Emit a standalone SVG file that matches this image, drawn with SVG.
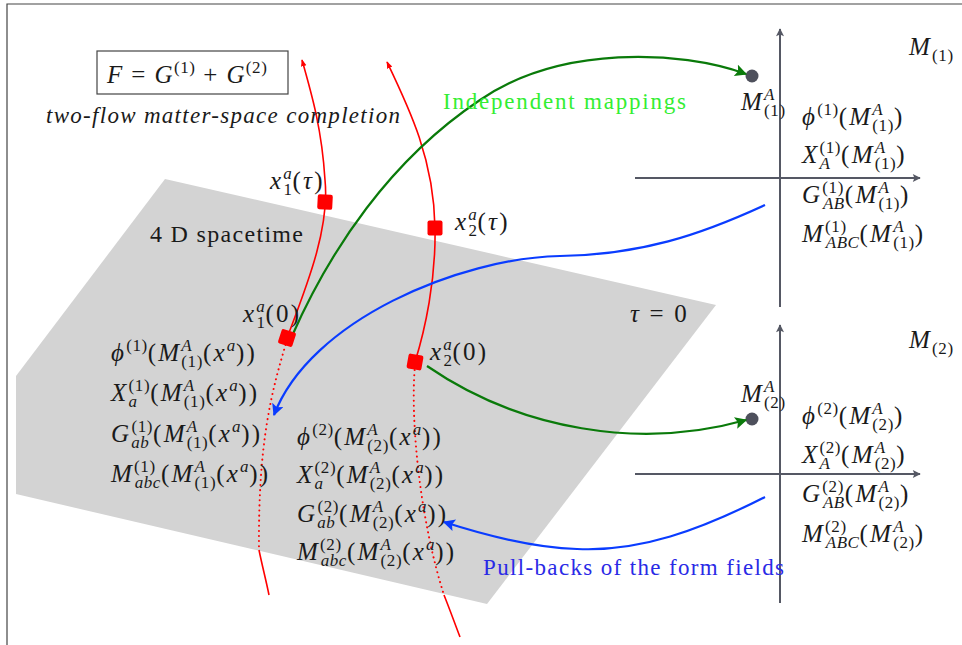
<svg xmlns="http://www.w3.org/2000/svg" width="962" height="645" viewBox="0 0 962 645" font-family="Liberation Serif, DejaVu Serif, serif">
<style>
.m{font-size:25px;letter-spacing:2.2px}
.i{font-style:italic}
.s{font-size:17px;letter-spacing:0.6px}
.red{fill:none;stroke:#ff0000;stroke-width:1.6}
.dot{fill:none;stroke:#ff0000;stroke-width:2;stroke-dasharray:0.1 5;stroke-linecap:round}
.grn{fill:none;stroke:#0a7a0a;stroke-width:2.2}
.blu{fill:none;stroke:#0a3cff;stroke-width:2.2}
.ax{fill:none;stroke:#555864;stroke-width:2}
.sq{fill:#ff0000}
</style>
<defs>
<marker id="ar" viewBox="0 0 10 10" refX="9" refY="5" markerWidth="7" markerHeight="7" orient="auto" markerUnits="userSpaceOnUse"><path d="M0,1 L10,5 L0,9 Z" fill="#ff0000"/></marker>
<marker id="ag" viewBox="0 0 10 10" refX="9" refY="5" markerWidth="14" markerHeight="12" orient="auto" markerUnits="userSpaceOnUse"><path d="M0,0 L10,5 L0,10 L2,5 Z" fill="#0a7a0a"/></marker>
<marker id="ab" viewBox="0 0 10 10" refX="9" refY="5" markerWidth="14" markerHeight="12" orient="auto" markerUnits="userSpaceOnUse"><path d="M0,0 L10,5 L0,10 L2,5 Z" fill="#0a3cff"/></marker>
<marker id="ax" viewBox="0 0 10 10" refX="9" refY="5" markerWidth="9" markerHeight="8" orient="auto" markerUnits="userSpaceOnUse"><path d="M0,0 L10,5 L0,10 L2,5 Z" fill="#555864"/></marker>
</defs>
<rect width="962" height="645" fill="#fff"/>
<g id="frame"><path d="M7,645 L7,4 L962,4" fill="none" stroke="#444" stroke-width="1.2"/></g>
<g id="spacetime-plane"><polygon points="165,179 716,305 487,604 16,494 16,376" fill="#d3d3d3"/></g>

<g id="axes1">
<line class="ax" x1="780" y1="307" x2="780" y2="29" marker-end="url(#ax)"/>
<line class="ax" x1="635" y1="178" x2="920" y2="178" marker-end="url(#ax)"/>
<circle cx="752" cy="76" r="6.5" fill="#4e505c"/>
</g>
<g id="axes2">
<line class="ax" x1="780" y1="603" x2="780" y2="325" marker-end="url(#ax)"/>
<line class="ax" x1="635" y1="474" x2="920" y2="474" marker-end="url(#ax)"/>
<circle cx="752" cy="419" r="6.5" fill="#4e505c"/>
</g>

<g id="connectors">
<path class="red" d="M287,338 C305,290 330,230 325,180 C322,130 312,95 302,60" marker-end="url(#ar)"/>
<path class="dot" d="M287,340 C272,390 258,440 259,550"/>
<path class="red" d="M259,550 C262,565 266,580 269,595"/>
<path class="red" d="M415,362 C425,330 436,280 435,228 C434,160 410,110 387,62" marker-end="url(#ar)"/>
<path class="dot" d="M415,365 C410,420 420,520 444,595"/>
<path class="red" d="M444,595 C450,610 455,624 460,637"/>
<path class="grn" d="M292,336 C330,250 390,160 480,100 C560,45 680,50 746,74" marker-end="url(#ag)"/>
<path class="grn" d="M427,366 C520,430 640,450 746,420" marker-end="url(#ag)"/>
<path class="blu" d="M765,205 C700,235 640,255 560,256 C460,258 310,320 274,415" marker-end="url(#ab)"/>
<path class="blu" d="M765,497 C700,530 640,552 577,549 C540,548 500,540 444,522" marker-end="url(#ab)"/>
</g>

<g id="worldline-points">
<rect class="sq" x="317.5" y="194.5" width="15" height="15" rx="2" transform="rotate(3 325 202)"/>
<rect class="sq" x="427.5" y="220.5" width="15" height="15" rx="2"/>
<rect class="sq" x="279.5" y="330.5" width="15" height="15" rx="2" transform="rotate(18 287 338)"/>
<rect class="sq" x="407.5" y="354.5" width="15" height="15" rx="2" transform="rotate(10 415 362)"/>
</g>

<g id="title" fill="#1a1a1a">
<rect x="97" y="51" width="191" height="43" fill="none" stroke="#444" stroke-width="1.2"/>
<text class="m" x="107" y="83" style="letter-spacing:1.4px"><tspan class="i">F</tspan> = <tspan class="i">G</tspan><tspan class="s" dy="-10">(1)</tspan><tspan dy="10"> + </tspan><tspan class="i">G</tspan><tspan class="s" dy="-10">(2)</tspan></text>
<text class="i" x="46" y="123" font-size="23" textLength="354" lengthAdjust="spacing">two-flow matter-space completion</text>
</g>

<g id="labels-plane" fill="#1a1a1a">
<text x="150" y="242" font-size="24" textLength="153" lengthAdjust="spacing">4 D spacetime</text>
<text class="m" x="630" y="322"><tspan class="i">τ</tspan> = 0</text>
<text class="m" x="270" y="189"><tspan class="i">x</tspan><tspan class="s i" dy="-10">a</tspan><tspan class="s" dx="-9" dy="16">1</tspan><tspan dy="-6">(</tspan><tspan class="i">τ</tspan>)</text>
<text class="m" x="455" y="230"><tspan class="i">x</tspan><tspan class="s i" dy="-10">a</tspan><tspan class="s" dx="-9" dy="16">2</tspan><tspan dy="-6">(</tspan><tspan class="i">τ</tspan>)</text>
<text class="m" x="243" y="322"><tspan class="i">x</tspan><tspan class="s i" dy="-10">a</tspan><tspan class="s" dx="-9" dy="16">1</tspan><tspan dy="-6">(0)</tspan></text>
<text class="m" x="430" y="360"><tspan class="i">x</tspan><tspan class="s i" dy="-10">a</tspan><tspan class="s" dx="-9" dy="16">2</tspan><tspan dy="-6">(0)</tspan></text>
</g>

<g id="fields-flow1" fill="#1a1a1a">
<text class="m" x="111" y="361"><tspan class="i">ϕ</tspan><tspan class="s" dy="-10">(1)</tspan><tspan dy="10">(</tspan><tspan class="i">M</tspan><tspan class="s i" dy="-10">A</tspan><tspan class="s" dx="-11" dy="16">(1)</tspan><tspan dy="-6">(</tspan><tspan class="i">x</tspan><tspan class="s i" dy="-10">a</tspan><tspan dy="10">))</tspan></text>
<text class="m" x="111" y="401"><tspan class="i">X</tspan><tspan class="s i" dy="6">a</tspan><tspan class="s" dx="-9" dy="-16">(1)</tspan><tspan dy="10">(</tspan><tspan class="i">M</tspan><tspan class="s i" dy="-10">A</tspan><tspan class="s" dx="-11" dy="16">(1)</tspan><tspan dy="-6">(</tspan><tspan class="i">x</tspan><tspan class="s i" dy="-10">a</tspan><tspan dy="10">))</tspan></text>
<text class="m" x="111" y="442"><tspan class="i">G</tspan><tspan class="s i" dy="6">ab</tspan><tspan class="s" dx="-18" dy="-16">(1)</tspan><tspan dy="10">(</tspan><tspan class="i">M</tspan><tspan class="s i" dy="-10">A</tspan><tspan class="s" dx="-11" dy="16">(1)</tspan><tspan dy="-6">(</tspan><tspan class="i">x</tspan><tspan class="s i" dy="-10">a</tspan><tspan dy="10">))</tspan></text>
<text class="m" x="111" y="482"><tspan class="i">M</tspan><tspan class="s" dy="-10">(1)</tspan><tspan class="s i" dx="-21" dy="16">abc</tspan><tspan dy="-6">(</tspan><tspan class="i">M</tspan><tspan class="s i" dy="-10">A</tspan><tspan class="s" dx="-11" dy="16">(1)</tspan><tspan dy="-6">(</tspan><tspan class="i">x</tspan><tspan class="s i" dy="-10">a</tspan><tspan dy="10">))</tspan></text>
</g>

<g id="fields-flow2" fill="#1a1a1a">
<text class="m" x="297" y="445"><tspan class="i">ϕ</tspan><tspan class="s" dy="-10">(2)</tspan><tspan dy="10">(</tspan><tspan class="i">M</tspan><tspan class="s i" dy="-10">A</tspan><tspan class="s" dx="-11" dy="16">(2)</tspan><tspan dy="-6">(</tspan><tspan class="i">x</tspan><tspan class="s i" dy="-10">a</tspan><tspan dy="10">))</tspan></text>
<text class="m" x="297" y="483"><tspan class="i">X</tspan><tspan class="s i" dy="6">a</tspan><tspan class="s" dx="-9" dy="-16">(2)</tspan><tspan dy="10">(</tspan><tspan class="i">M</tspan><tspan class="s i" dy="-10">A</tspan><tspan class="s" dx="-11" dy="16">(2)</tspan><tspan dy="-6">(</tspan><tspan class="i">x</tspan><tspan class="s i" dy="-10">a</tspan><tspan dy="10">))</tspan></text>
<text class="m" x="297" y="522"><tspan class="i">G</tspan><tspan class="s i" dy="6">ab</tspan><tspan class="s" dx="-18" dy="-16">(2)</tspan><tspan dy="10">(</tspan><tspan class="i">M</tspan><tspan class="s i" dy="-10">A</tspan><tspan class="s" dx="-11" dy="16">(2)</tspan><tspan dy="-6">(</tspan><tspan class="i">x</tspan><tspan class="s i" dy="-10">a</tspan><tspan dy="10">))</tspan></text>
<text class="m" x="297" y="560"><tspan class="i">M</tspan><tspan class="s" dy="-10">(2)</tspan><tspan class="s i" dx="-21" dy="16">abc</tspan><tspan dy="-6">(</tspan><tspan class="i">M</tspan><tspan class="s i" dy="-10">A</tspan><tspan class="s" dx="-11" dy="16">(2)</tspan><tspan dy="-6">(</tspan><tspan class="i">x</tspan><tspan class="s i" dy="-10">a</tspan><tspan dy="10">))</tspan></text>
</g>

<g id="matter-space1" fill="#1a1a1a">
<text class="m" x="909" y="55"><tspan class="i">M</tspan><tspan class="s" dy="6">(1)</tspan></text>
<text class="m" x="741" y="110"><tspan class="i">M</tspan><tspan class="s i" dy="-10">A</tspan><tspan class="s" dx="-11" dy="16">(1)</tspan></text>
<text class="m" x="802" y="125"><tspan class="i">ϕ</tspan><tspan class="s" dy="-10">(1)</tspan><tspan dy="10">(</tspan><tspan class="i">M</tspan><tspan class="s i" dy="-10">A</tspan><tspan class="s" dx="-11" dy="16">(1)</tspan><tspan dy="-6">)</tspan></text>
<text class="m" x="802" y="163"><tspan class="i">X</tspan><tspan class="s i" dy="6">A</tspan><tspan class="s" dx="-11" dy="-16">(1)</tspan><tspan dy="10">(</tspan><tspan class="i">M</tspan><tspan class="s i" dy="-10">A</tspan><tspan class="s" dx="-11" dy="16">(1)</tspan><tspan dy="-6">)</tspan></text>
<text class="m" x="802" y="203"><tspan class="i">G</tspan><tspan class="s" dy="-10">(1)</tspan><tspan class="s i" dx="-21" dy="16">AB</tspan><tspan dy="-6">(</tspan><tspan class="i">M</tspan><tspan class="s i" dy="-10">A</tspan><tspan class="s" dx="-11" dy="16">(1)</tspan><tspan dy="-6">)</tspan></text>
<text class="m" x="802" y="242"><tspan class="i">M</tspan><tspan class="s" dy="-10">(1)</tspan><tspan class="s i" dx="-21" dy="16">ABC</tspan><tspan dy="-6">(</tspan><tspan class="i">M</tspan><tspan class="s i" dy="-10">A</tspan><tspan class="s" dx="-11" dy="16">(1)</tspan><tspan dy="-6">)</tspan></text>
</g>

<g id="matter-space2" fill="#1a1a1a">
<text class="m" x="909" y="348"><tspan class="i">M</tspan><tspan class="s" dy="6">(2)</tspan></text>
<text class="m" x="741" y="402"><tspan class="i">M</tspan><tspan class="s i" dy="-10">A</tspan><tspan class="s" dx="-11" dy="16">(2)</tspan></text>
<text class="m" x="802" y="424"><tspan class="i">ϕ</tspan><tspan class="s" dy="-10">(2)</tspan><tspan dy="10">(</tspan><tspan class="i">M</tspan><tspan class="s i" dy="-10">A</tspan><tspan class="s" dx="-11" dy="16">(2)</tspan><tspan dy="-6">)</tspan></text>
<text class="m" x="802" y="463"><tspan class="i">X</tspan><tspan class="s i" dy="6">A</tspan><tspan class="s" dx="-11" dy="-16">(2)</tspan><tspan dy="10">(</tspan><tspan class="i">M</tspan><tspan class="s i" dy="-10">A</tspan><tspan class="s" dx="-11" dy="16">(2)</tspan><tspan dy="-6">)</tspan></text>
<text class="m" x="802" y="502"><tspan class="i">G</tspan><tspan class="s" dy="-10">(2)</tspan><tspan class="s i" dx="-21" dy="16">AB</tspan><tspan dy="-6">(</tspan><tspan class="i">M</tspan><tspan class="s i" dy="-10">A</tspan><tspan class="s" dx="-11" dy="16">(2)</tspan><tspan dy="-6">)</tspan></text>
<text class="m" x="802" y="542"><tspan class="i">M</tspan><tspan class="s" dy="-10">(2)</tspan><tspan class="s i" dx="-21" dy="16">ABC</tspan><tspan dy="-6">(</tspan><tspan class="i">M</tspan><tspan class="s i" dy="-10">A</tspan><tspan class="s" dx="-11" dy="16">(2)</tspan><tspan dy="-6">)</tspan></text>
</g>

<g id="mapping-labels">
<text x="443" y="109" font-size="23" fill="#33ee33" textLength="243" lengthAdjust="spacing">Independent mappings</text>
<text x="483" y="575" font-size="23" fill="#2a2ae6" textLength="301" lengthAdjust="spacing">Pull-backs of the form fields</text>
</g>
</svg>
